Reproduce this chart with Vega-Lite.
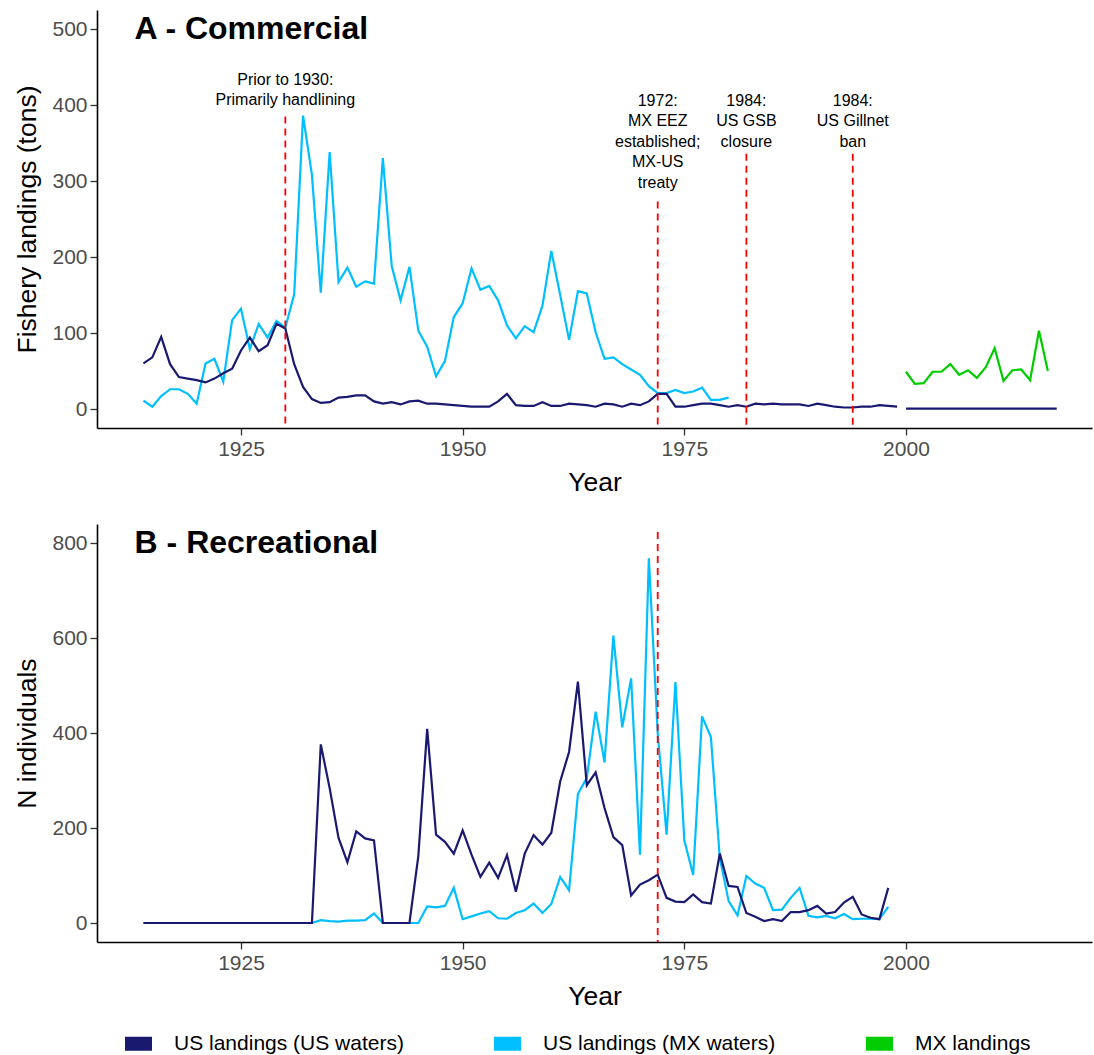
{
  "$schema": "https://vega.github.io/schema/vega-lite/v6.json",
  "padding": {"left": 14, "top": 10, "right": 2, "bottom": 4},
  "config": {
    "font": "Liberation Sans",
    "view": {"stroke": null},
    "axis": {
      "grid": false,
      "domainColor": "#000000",
      "domainWidth": 1.6,
      "tickColor": "#333333",
      "tickWidth": 1.3,
      "tickSize": 7,
      "labelColor": "#4D4D4D",
      "labelFontSize": 21,
      "labelPadding": 3,
      "titleColor": "#000000",
      "titleFontSize": 26.5,
      "titleFontWeight": "normal"
    },
    "axisX": {"titlePadding": 10},
    "axisY": {"titlePadding": 10},
    "text": {"font": "Liberation Sans"}
  },
  "datasets": {
    "commercial": [
      {"series": "US landings (MX waters)", "year": 1914, "value": 11, "part": 1},
      {"series": "US landings (MX waters)", "year": 1915, "value": 3, "part": 1},
      {"series": "US landings (MX waters)", "year": 1916, "value": 17, "part": 1},
      {"series": "US landings (MX waters)", "year": 1917, "value": 26, "part": 1},
      {"series": "US landings (MX waters)", "year": 1918, "value": 26, "part": 1},
      {"series": "US landings (MX waters)", "year": 1919, "value": 20, "part": 1},
      {"series": "US landings (MX waters)", "year": 1920, "value": 7, "part": 1},
      {"series": "US landings (MX waters)", "year": 1921, "value": 60, "part": 1},
      {"series": "US landings (MX waters)", "year": 1922, "value": 66, "part": 1},
      {"series": "US landings (MX waters)", "year": 1923, "value": 36, "part": 1},
      {"series": "US landings (MX waters)", "year": 1924, "value": 117, "part": 1},
      {"series": "US landings (MX waters)", "year": 1925, "value": 132, "part": 1},
      {"series": "US landings (MX waters)", "year": 1926, "value": 79, "part": 1},
      {"series": "US landings (MX waters)", "year": 1927, "value": 112, "part": 1},
      {"series": "US landings (MX waters)", "year": 1928, "value": 94, "part": 1},
      {"series": "US landings (MX waters)", "year": 1929, "value": 116, "part": 1},
      {"series": "US landings (MX waters)", "year": 1930, "value": 107, "part": 1},
      {"series": "US landings (MX waters)", "year": 1931, "value": 151, "part": 1},
      {"series": "US landings (MX waters)", "year": 1932, "value": 386, "part": 1},
      {"series": "US landings (MX waters)", "year": 1933, "value": 308, "part": 1},
      {"series": "US landings (MX waters)", "year": 1934, "value": 153, "part": 1},
      {"series": "US landings (MX waters)", "year": 1935, "value": 338, "part": 1},
      {"series": "US landings (MX waters)", "year": 1936, "value": 167, "part": 1},
      {"series": "US landings (MX waters)", "year": 1937, "value": 186, "part": 1},
      {"series": "US landings (MX waters)", "year": 1938, "value": 161, "part": 1},
      {"series": "US landings (MX waters)", "year": 1939, "value": 168, "part": 1},
      {"series": "US landings (MX waters)", "year": 1940, "value": 165, "part": 1},
      {"series": "US landings (MX waters)", "year": 1941, "value": 330, "part": 1},
      {"series": "US landings (MX waters)", "year": 1942, "value": 188, "part": 1},
      {"series": "US landings (MX waters)", "year": 1943, "value": 143, "part": 1},
      {"series": "US landings (MX waters)", "year": 1944, "value": 187, "part": 1},
      {"series": "US landings (MX waters)", "year": 1945, "value": 103, "part": 1},
      {"series": "US landings (MX waters)", "year": 1946, "value": 82, "part": 1},
      {"series": "US landings (MX waters)", "year": 1947, "value": 43, "part": 1},
      {"series": "US landings (MX waters)", "year": 1948, "value": 63, "part": 1},
      {"series": "US landings (MX waters)", "year": 1949, "value": 121, "part": 1},
      {"series": "US landings (MX waters)", "year": 1950, "value": 139, "part": 1},
      {"series": "US landings (MX waters)", "year": 1951, "value": 185, "part": 1},
      {"series": "US landings (MX waters)", "year": 1952, "value": 157, "part": 1},
      {"series": "US landings (MX waters)", "year": 1953, "value": 162, "part": 1},
      {"series": "US landings (MX waters)", "year": 1954, "value": 143, "part": 1},
      {"series": "US landings (MX waters)", "year": 1955, "value": 110, "part": 1},
      {"series": "US landings (MX waters)", "year": 1956, "value": 93, "part": 1},
      {"series": "US landings (MX waters)", "year": 1957, "value": 109, "part": 1},
      {"series": "US landings (MX waters)", "year": 1958, "value": 101, "part": 1},
      {"series": "US landings (MX waters)", "year": 1959, "value": 136, "part": 1},
      {"series": "US landings (MX waters)", "year": 1960, "value": 208, "part": 1},
      {"series": "US landings (MX waters)", "year": 1961, "value": 150, "part": 1},
      {"series": "US landings (MX waters)", "year": 1962, "value": 91, "part": 1},
      {"series": "US landings (MX waters)", "year": 1963, "value": 155, "part": 1},
      {"series": "US landings (MX waters)", "year": 1964, "value": 152, "part": 1},
      {"series": "US landings (MX waters)", "year": 1965, "value": 101, "part": 1},
      {"series": "US landings (MX waters)", "year": 1966, "value": 66, "part": 1},
      {"series": "US landings (MX waters)", "year": 1967, "value": 68, "part": 1},
      {"series": "US landings (MX waters)", "year": 1968, "value": 59, "part": 1},
      {"series": "US landings (MX waters)", "year": 1969, "value": 52, "part": 1},
      {"series": "US landings (MX waters)", "year": 1970, "value": 45, "part": 1},
      {"series": "US landings (MX waters)", "year": 1971, "value": 30, "part": 1},
      {"series": "US landings (MX waters)", "year": 1972, "value": 21, "part": 1},
      {"series": "US landings (MX waters)", "year": 1973, "value": 21, "part": 1},
      {"series": "US landings (MX waters)", "year": 1974, "value": 25, "part": 1},
      {"series": "US landings (MX waters)", "year": 1975, "value": 21, "part": 1},
      {"series": "US landings (MX waters)", "year": 1976, "value": 23, "part": 1},
      {"series": "US landings (MX waters)", "year": 1977, "value": 28, "part": 1},
      {"series": "US landings (MX waters)", "year": 1978, "value": 12, "part": 1},
      {"series": "US landings (MX waters)", "year": 1979, "value": 12, "part": 1},
      {"series": "US landings (MX waters)", "year": 1980, "value": 15, "part": 1},
      {"series": "US landings (US waters)", "year": 1914, "value": 60, "part": 1},
      {"series": "US landings (US waters)", "year": 1915, "value": 68, "part": 1},
      {"series": "US landings (US waters)", "year": 1916, "value": 95, "part": 1},
      {"series": "US landings (US waters)", "year": 1917, "value": 59, "part": 1},
      {"series": "US landings (US waters)", "year": 1918, "value": 42, "part": 1},
      {"series": "US landings (US waters)", "year": 1919, "value": 40, "part": 1},
      {"series": "US landings (US waters)", "year": 1920, "value": 38, "part": 1},
      {"series": "US landings (US waters)", "year": 1921, "value": 35, "part": 1},
      {"series": "US landings (US waters)", "year": 1922, "value": 40, "part": 1},
      {"series": "US landings (US waters)", "year": 1923, "value": 47, "part": 1},
      {"series": "US landings (US waters)", "year": 1924, "value": 53, "part": 1},
      {"series": "US landings (US waters)", "year": 1925, "value": 77, "part": 1},
      {"series": "US landings (US waters)", "year": 1926, "value": 94, "part": 1},
      {"series": "US landings (US waters)", "year": 1927, "value": 76, "part": 1},
      {"series": "US landings (US waters)", "year": 1928, "value": 84, "part": 1},
      {"series": "US landings (US waters)", "year": 1929, "value": 112, "part": 1},
      {"series": "US landings (US waters)", "year": 1930, "value": 106, "part": 1},
      {"series": "US landings (US waters)", "year": 1931, "value": 59, "part": 1},
      {"series": "US landings (US waters)", "year": 1932, "value": 29, "part": 1},
      {"series": "US landings (US waters)", "year": 1933, "value": 13, "part": 1},
      {"series": "US landings (US waters)", "year": 1934, "value": 8, "part": 1},
      {"series": "US landings (US waters)", "year": 1935, "value": 9, "part": 1},
      {"series": "US landings (US waters)", "year": 1936, "value": 15, "part": 1},
      {"series": "US landings (US waters)", "year": 1937, "value": 16, "part": 1},
      {"series": "US landings (US waters)", "year": 1938, "value": 18, "part": 1},
      {"series": "US landings (US waters)", "year": 1939, "value": 18, "part": 1},
      {"series": "US landings (US waters)", "year": 1940, "value": 10, "part": 1},
      {"series": "US landings (US waters)", "year": 1941, "value": 7, "part": 1},
      {"series": "US landings (US waters)", "year": 1942, "value": 9, "part": 1},
      {"series": "US landings (US waters)", "year": 1943, "value": 6, "part": 1},
      {"series": "US landings (US waters)", "year": 1944, "value": 10, "part": 1},
      {"series": "US landings (US waters)", "year": 1945, "value": 11, "part": 1},
      {"series": "US landings (US waters)", "year": 1946, "value": 7, "part": 1},
      {"series": "US landings (US waters)", "year": 1947, "value": 7, "part": 1},
      {"series": "US landings (US waters)", "year": 1948, "value": 6, "part": 1},
      {"series": "US landings (US waters)", "year": 1949, "value": 5, "part": 1},
      {"series": "US landings (US waters)", "year": 1950, "value": 4, "part": 1},
      {"series": "US landings (US waters)", "year": 1951, "value": 3, "part": 1},
      {"series": "US landings (US waters)", "year": 1952, "value": 3, "part": 1},
      {"series": "US landings (US waters)", "year": 1953, "value": 3, "part": 1},
      {"series": "US landings (US waters)", "year": 1954, "value": 10, "part": 1},
      {"series": "US landings (US waters)", "year": 1955, "value": 20, "part": 1},
      {"series": "US landings (US waters)", "year": 1956, "value": 5, "part": 1},
      {"series": "US landings (US waters)", "year": 1957, "value": 4, "part": 1},
      {"series": "US landings (US waters)", "year": 1958, "value": 4, "part": 1},
      {"series": "US landings (US waters)", "year": 1959, "value": 9, "part": 1},
      {"series": "US landings (US waters)", "year": 1960, "value": 4, "part": 1},
      {"series": "US landings (US waters)", "year": 1961, "value": 4, "part": 1},
      {"series": "US landings (US waters)", "year": 1962, "value": 7, "part": 1},
      {"series": "US landings (US waters)", "year": 1963, "value": 6, "part": 1},
      {"series": "US landings (US waters)", "year": 1964, "value": 5, "part": 1},
      {"series": "US landings (US waters)", "year": 1965, "value": 3, "part": 1},
      {"series": "US landings (US waters)", "year": 1966, "value": 7, "part": 1},
      {"series": "US landings (US waters)", "year": 1967, "value": 6, "part": 1},
      {"series": "US landings (US waters)", "year": 1968, "value": 3, "part": 1},
      {"series": "US landings (US waters)", "year": 1969, "value": 7, "part": 1},
      {"series": "US landings (US waters)", "year": 1970, "value": 5, "part": 1},
      {"series": "US landings (US waters)", "year": 1971, "value": 10, "part": 1},
      {"series": "US landings (US waters)", "year": 1972, "value": 20, "part": 1},
      {"series": "US landings (US waters)", "year": 1973, "value": 20, "part": 1},
      {"series": "US landings (US waters)", "year": 1974, "value": 3, "part": 1},
      {"series": "US landings (US waters)", "year": 1975, "value": 3, "part": 1},
      {"series": "US landings (US waters)", "year": 1976, "value": 5, "part": 1},
      {"series": "US landings (US waters)", "year": 1977, "value": 7, "part": 1},
      {"series": "US landings (US waters)", "year": 1978, "value": 7, "part": 1},
      {"series": "US landings (US waters)", "year": 1979, "value": 5, "part": 1},
      {"series": "US landings (US waters)", "year": 1980, "value": 3, "part": 1},
      {"series": "US landings (US waters)", "year": 1981, "value": 5, "part": 1},
      {"series": "US landings (US waters)", "year": 1982, "value": 3, "part": 1},
      {"series": "US landings (US waters)", "year": 1983, "value": 7, "part": 1},
      {"series": "US landings (US waters)", "year": 1984, "value": 6, "part": 1},
      {"series": "US landings (US waters)", "year": 1985, "value": 7, "part": 1},
      {"series": "US landings (US waters)", "year": 1986, "value": 6, "part": 1},
      {"series": "US landings (US waters)", "year": 1987, "value": 6, "part": 1},
      {"series": "US landings (US waters)", "year": 1988, "value": 6, "part": 1},
      {"series": "US landings (US waters)", "year": 1989, "value": 4, "part": 1},
      {"series": "US landings (US waters)", "year": 1990, "value": 7, "part": 1},
      {"series": "US landings (US waters)", "year": 1991, "value": 5, "part": 1},
      {"series": "US landings (US waters)", "year": 1992, "value": 3, "part": 1},
      {"series": "US landings (US waters)", "year": 1993, "value": 2, "part": 1},
      {"series": "US landings (US waters)", "year": 1994, "value": 2, "part": 1},
      {"series": "US landings (US waters)", "year": 1995, "value": 3, "part": 1},
      {"series": "US landings (US waters)", "year": 1996, "value": 3, "part": 1},
      {"series": "US landings (US waters)", "year": 1997, "value": 5, "part": 1},
      {"series": "US landings (US waters)", "year": 1998, "value": 4, "part": 1},
      {"series": "US landings (US waters)", "year": 1999, "value": 3, "part": 1},
      {"series": "US landings (US waters)", "year": 2000, "value": 0.5, "part": 2},
      {"series": "US landings (US waters)", "year": 2001, "value": 0.5, "part": 2},
      {"series": "US landings (US waters)", "year": 2002, "value": 0.5, "part": 2},
      {"series": "US landings (US waters)", "year": 2003, "value": 0.5, "part": 2},
      {"series": "US landings (US waters)", "year": 2004, "value": 0.5, "part": 2},
      {"series": "US landings (US waters)", "year": 2005, "value": 0.5, "part": 2},
      {"series": "US landings (US waters)", "year": 2006, "value": 0.5, "part": 2},
      {"series": "US landings (US waters)", "year": 2007, "value": 0.5, "part": 2},
      {"series": "US landings (US waters)", "year": 2008, "value": 0.5, "part": 2},
      {"series": "US landings (US waters)", "year": 2009, "value": 0.5, "part": 2},
      {"series": "US landings (US waters)", "year": 2010, "value": 0.5, "part": 2},
      {"series": "US landings (US waters)", "year": 2011, "value": 0.5, "part": 2},
      {"series": "US landings (US waters)", "year": 2012, "value": 0.5, "part": 2},
      {"series": "US landings (US waters)", "year": 2013, "value": 0.5, "part": 2},
      {"series": "US landings (US waters)", "year": 2014, "value": 0.5, "part": 2},
      {"series": "US landings (US waters)", "year": 2015, "value": 0.5, "part": 2},
      {"series": "US landings (US waters)", "year": 2016, "value": 0.5, "part": 2},
      {"series": "US landings (US waters)", "year": 2017, "value": 0.5, "part": 2},
      {"series": "MX landings", "year": 2000, "value": 49, "part": 1},
      {"series": "MX landings", "year": 2001, "value": 33, "part": 1},
      {"series": "MX landings", "year": 2002, "value": 34, "part": 1},
      {"series": "MX landings", "year": 2003, "value": 49, "part": 1},
      {"series": "MX landings", "year": 2004, "value": 49, "part": 1},
      {"series": "MX landings", "year": 2005, "value": 59, "part": 1},
      {"series": "MX landings", "year": 2006, "value": 45, "part": 1},
      {"series": "MX landings", "year": 2007, "value": 51, "part": 1},
      {"series": "MX landings", "year": 2008, "value": 41, "part": 1},
      {"series": "MX landings", "year": 2009, "value": 55, "part": 1},
      {"series": "MX landings", "year": 2010, "value": 80, "part": 1},
      {"series": "MX landings", "year": 2011, "value": 37, "part": 1},
      {"series": "MX landings", "year": 2012, "value": 51, "part": 1},
      {"series": "MX landings", "year": 2013, "value": 52, "part": 1},
      {"series": "MX landings", "year": 2014, "value": 38, "part": 1},
      {"series": "MX landings", "year": 2015, "value": 103, "part": 1},
      {"series": "MX landings", "year": 2016, "value": 50, "part": 1}
    ],
    "recreational": [
      {"series": "US landings (MX waters)", "year": 1914, "value": 0},
      {"series": "US landings (MX waters)", "year": 1915, "value": 0},
      {"series": "US landings (MX waters)", "year": 1916, "value": 0},
      {"series": "US landings (MX waters)", "year": 1917, "value": 0},
      {"series": "US landings (MX waters)", "year": 1918, "value": 0},
      {"series": "US landings (MX waters)", "year": 1919, "value": 0},
      {"series": "US landings (MX waters)", "year": 1920, "value": 0},
      {"series": "US landings (MX waters)", "year": 1921, "value": 0},
      {"series": "US landings (MX waters)", "year": 1922, "value": 0},
      {"series": "US landings (MX waters)", "year": 1923, "value": 0},
      {"series": "US landings (MX waters)", "year": 1924, "value": 0},
      {"series": "US landings (MX waters)", "year": 1925, "value": 0},
      {"series": "US landings (MX waters)", "year": 1926, "value": 0},
      {"series": "US landings (MX waters)", "year": 1927, "value": 0},
      {"series": "US landings (MX waters)", "year": 1928, "value": 0},
      {"series": "US landings (MX waters)", "year": 1929, "value": 0},
      {"series": "US landings (MX waters)", "year": 1930, "value": 0},
      {"series": "US landings (MX waters)", "year": 1931, "value": 0},
      {"series": "US landings (MX waters)", "year": 1932, "value": 0},
      {"series": "US landings (MX waters)", "year": 1933, "value": 0},
      {"series": "US landings (MX waters)", "year": 1934, "value": 6},
      {"series": "US landings (MX waters)", "year": 1935, "value": 4},
      {"series": "US landings (MX waters)", "year": 1936, "value": 3},
      {"series": "US landings (MX waters)", "year": 1937, "value": 5},
      {"series": "US landings (MX waters)", "year": 1938, "value": 5},
      {"series": "US landings (MX waters)", "year": 1939, "value": 6},
      {"series": "US landings (MX waters)", "year": 1940, "value": 20},
      {"series": "US landings (MX waters)", "year": 1941, "value": 0},
      {"series": "US landings (MX waters)", "year": 1942, "value": 0},
      {"series": "US landings (MX waters)", "year": 1943, "value": 0},
      {"series": "US landings (MX waters)", "year": 1944, "value": 0},
      {"series": "US landings (MX waters)", "year": 1945, "value": 0},
      {"series": "US landings (MX waters)", "year": 1946, "value": 35},
      {"series": "US landings (MX waters)", "year": 1947, "value": 33},
      {"series": "US landings (MX waters)", "year": 1948, "value": 36},
      {"series": "US landings (MX waters)", "year": 1949, "value": 74},
      {"series": "US landings (MX waters)", "year": 1950, "value": 8},
      {"series": "US landings (MX waters)", "year": 1951, "value": 14},
      {"series": "US landings (MX waters)", "year": 1952, "value": 20},
      {"series": "US landings (MX waters)", "year": 1953, "value": 25},
      {"series": "US landings (MX waters)", "year": 1954, "value": 10},
      {"series": "US landings (MX waters)", "year": 1955, "value": 9},
      {"series": "US landings (MX waters)", "year": 1956, "value": 21},
      {"series": "US landings (MX waters)", "year": 1957, "value": 27},
      {"series": "US landings (MX waters)", "year": 1958, "value": 41},
      {"series": "US landings (MX waters)", "year": 1959, "value": 21},
      {"series": "US landings (MX waters)", "year": 1960, "value": 40},
      {"series": "US landings (MX waters)", "year": 1961, "value": 97},
      {"series": "US landings (MX waters)", "year": 1962, "value": 69},
      {"series": "US landings (MX waters)", "year": 1963, "value": 272},
      {"series": "US landings (MX waters)", "year": 1964, "value": 305},
      {"series": "US landings (MX waters)", "year": 1965, "value": 445},
      {"series": "US landings (MX waters)", "year": 1966, "value": 338},
      {"series": "US landings (MX waters)", "year": 1967, "value": 605},
      {"series": "US landings (MX waters)", "year": 1968, "value": 412},
      {"series": "US landings (MX waters)", "year": 1969, "value": 515},
      {"series": "US landings (MX waters)", "year": 1970, "value": 144},
      {"series": "US landings (MX waters)", "year": 1971, "value": 768},
      {"series": "US landings (MX waters)", "year": 1972, "value": 400},
      {"series": "US landings (MX waters)", "year": 1973, "value": 186},
      {"series": "US landings (MX waters)", "year": 1974, "value": 507},
      {"series": "US landings (MX waters)", "year": 1975, "value": 174},
      {"series": "US landings (MX waters)", "year": 1976, "value": 101},
      {"series": "US landings (MX waters)", "year": 1977, "value": 435},
      {"series": "US landings (MX waters)", "year": 1978, "value": 391},
      {"series": "US landings (MX waters)", "year": 1979, "value": 137},
      {"series": "US landings (MX waters)", "year": 1980, "value": 46},
      {"series": "US landings (MX waters)", "year": 1981, "value": 16},
      {"series": "US landings (MX waters)", "year": 1982, "value": 99},
      {"series": "US landings (MX waters)", "year": 1983, "value": 83},
      {"series": "US landings (MX waters)", "year": 1984, "value": 74},
      {"series": "US landings (MX waters)", "year": 1985, "value": 27},
      {"series": "US landings (MX waters)", "year": 1986, "value": 28},
      {"series": "US landings (MX waters)", "year": 1987, "value": 53},
      {"series": "US landings (MX waters)", "year": 1988, "value": 74},
      {"series": "US landings (MX waters)", "year": 1989, "value": 15},
      {"series": "US landings (MX waters)", "year": 1990, "value": 12},
      {"series": "US landings (MX waters)", "year": 1991, "value": 15},
      {"series": "US landings (MX waters)", "year": 1992, "value": 10},
      {"series": "US landings (MX waters)", "year": 1993, "value": 19},
      {"series": "US landings (MX waters)", "year": 1994, "value": 8},
      {"series": "US landings (MX waters)", "year": 1995, "value": 9},
      {"series": "US landings (MX waters)", "year": 1996, "value": 9},
      {"series": "US landings (MX waters)", "year": 1997, "value": 8},
      {"series": "US landings (MX waters)", "year": 1998, "value": 34},
      {"series": "US landings (US waters)", "year": 1914, "value": 0},
      {"series": "US landings (US waters)", "year": 1915, "value": 0},
      {"series": "US landings (US waters)", "year": 1916, "value": 0},
      {"series": "US landings (US waters)", "year": 1917, "value": 0},
      {"series": "US landings (US waters)", "year": 1918, "value": 0},
      {"series": "US landings (US waters)", "year": 1919, "value": 0},
      {"series": "US landings (US waters)", "year": 1920, "value": 0},
      {"series": "US landings (US waters)", "year": 1921, "value": 0},
      {"series": "US landings (US waters)", "year": 1922, "value": 0},
      {"series": "US landings (US waters)", "year": 1923, "value": 0},
      {"series": "US landings (US waters)", "year": 1924, "value": 0},
      {"series": "US landings (US waters)", "year": 1925, "value": 0},
      {"series": "US landings (US waters)", "year": 1926, "value": 0},
      {"series": "US landings (US waters)", "year": 1927, "value": 0},
      {"series": "US landings (US waters)", "year": 1928, "value": 0},
      {"series": "US landings (US waters)", "year": 1929, "value": 0},
      {"series": "US landings (US waters)", "year": 1930, "value": 0},
      {"series": "US landings (US waters)", "year": 1931, "value": 0},
      {"series": "US landings (US waters)", "year": 1932, "value": 0},
      {"series": "US landings (US waters)", "year": 1933, "value": 0},
      {"series": "US landings (US waters)", "year": 1934, "value": 376},
      {"series": "US landings (US waters)", "year": 1935, "value": 284},
      {"series": "US landings (US waters)", "year": 1936, "value": 179},
      {"series": "US landings (US waters)", "year": 1937, "value": 128},
      {"series": "US landings (US waters)", "year": 1938, "value": 193},
      {"series": "US landings (US waters)", "year": 1939, "value": 178},
      {"series": "US landings (US waters)", "year": 1940, "value": 174},
      {"series": "US landings (US waters)", "year": 1941, "value": 0},
      {"series": "US landings (US waters)", "year": 1942, "value": 0},
      {"series": "US landings (US waters)", "year": 1943, "value": 0},
      {"series": "US landings (US waters)", "year": 1944, "value": 0},
      {"series": "US landings (US waters)", "year": 1945, "value": 141},
      {"series": "US landings (US waters)", "year": 1946, "value": 409},
      {"series": "US landings (US waters)", "year": 1947, "value": 186},
      {"series": "US landings (US waters)", "year": 1948, "value": 171},
      {"series": "US landings (US waters)", "year": 1949, "value": 146},
      {"series": "US landings (US waters)", "year": 1950, "value": 195},
      {"series": "US landings (US waters)", "year": 1951, "value": 144},
      {"series": "US landings (US waters)", "year": 1952, "value": 97},
      {"series": "US landings (US waters)", "year": 1953, "value": 127},
      {"series": "US landings (US waters)", "year": 1954, "value": 95},
      {"series": "US landings (US waters)", "year": 1955, "value": 143},
      {"series": "US landings (US waters)", "year": 1956, "value": 66},
      {"series": "US landings (US waters)", "year": 1957, "value": 146},
      {"series": "US landings (US waters)", "year": 1958, "value": 185},
      {"series": "US landings (US waters)", "year": 1959, "value": 165},
      {"series": "US landings (US waters)", "year": 1960, "value": 190},
      {"series": "US landings (US waters)", "year": 1961, "value": 298},
      {"series": "US landings (US waters)", "year": 1962, "value": 360},
      {"series": "US landings (US waters)", "year": 1963, "value": 508},
      {"series": "US landings (US waters)", "year": 1964, "value": 290},
      {"series": "US landings (US waters)", "year": 1965, "value": 317},
      {"series": "US landings (US waters)", "year": 1966, "value": 242},
      {"series": "US landings (US waters)", "year": 1967, "value": 181},
      {"series": "US landings (US waters)", "year": 1968, "value": 164},
      {"series": "US landings (US waters)", "year": 1969, "value": 58},
      {"series": "US landings (US waters)", "year": 1970, "value": 81},
      {"series": "US landings (US waters)", "year": 1971, "value": 90},
      {"series": "US landings (US waters)", "year": 1972, "value": 102},
      {"series": "US landings (US waters)", "year": 1973, "value": 53},
      {"series": "US landings (US waters)", "year": 1974, "value": 45},
      {"series": "US landings (US waters)", "year": 1975, "value": 44},
      {"series": "US landings (US waters)", "year": 1976, "value": 60},
      {"series": "US landings (US waters)", "year": 1977, "value": 44},
      {"series": "US landings (US waters)", "year": 1978, "value": 41},
      {"series": "US landings (US waters)", "year": 1979, "value": 146},
      {"series": "US landings (US waters)", "year": 1980, "value": 78},
      {"series": "US landings (US waters)", "year": 1981, "value": 76},
      {"series": "US landings (US waters)", "year": 1982, "value": 21},
      {"series": "US landings (US waters)", "year": 1983, "value": 13},
      {"series": "US landings (US waters)", "year": 1984, "value": 4},
      {"series": "US landings (US waters)", "year": 1985, "value": 8},
      {"series": "US landings (US waters)", "year": 1986, "value": 4},
      {"series": "US landings (US waters)", "year": 1987, "value": 23},
      {"series": "US landings (US waters)", "year": 1988, "value": 23},
      {"series": "US landings (US waters)", "year": 1989, "value": 27},
      {"series": "US landings (US waters)", "year": 1990, "value": 36},
      {"series": "US landings (US waters)", "year": 1991, "value": 20},
      {"series": "US landings (US waters)", "year": 1992, "value": 23},
      {"series": "US landings (US waters)", "year": 1993, "value": 43},
      {"series": "US landings (US waters)", "year": 1994, "value": 55},
      {"series": "US landings (US waters)", "year": 1995, "value": 18},
      {"series": "US landings (US waters)", "year": 1996, "value": 11},
      {"series": "US landings (US waters)", "year": 1997, "value": 8},
      {"series": "US landings (US waters)", "year": 1998, "value": 74}
    ],
    "commercial_events": [
      {"year": 1930, "top": 385, "label_y": 444, "label": ["Prior to 1930:", "Primarily handlining"]},
      {"year": 1972, "top": 273, "label_y": 416, "label": ["1972:", "MX EEZ", "established;", "MX-US", "treaty"]},
      {"year": 1982, "top": 336, "label_y": 416, "label": ["1984:", "US GSB", "closure"]},
      {"year": 1994, "top": 336, "label_y": 416, "label": ["1984:", "US Gillnet", "ban"]}
    ],
    "recreational_events": [
      {"year": 1972, "top": 823}
    ]
  },
  "vconcat": [
    {
      "width": 995,
      "height": 418,
      "layer": [
        {
          "data": {"name": "commercial"},
          "mark": {"type": "line", "strokeWidth": 2.2},
          "encoding": {
            "x": {"field": "year", "type": "quantitative", "scale": {"domain": [1908.76, 2020.98], "nice": false, "zero": false},
                  "axis": {"values": [1925, 1950, 1975, 2000], "format": "d", "title": "Year"}},
            "y": {"field": "value", "type": "quantitative", "scale": {"domain": [-25, 525], "nice": false, "zero": false},
                  "axis": {"values": [0, 100, 200, 300, 400, 500], "title": "Fishery landings (tons)"}},
            "color": {"field": "series", "type": "nominal",
                      "scale": {"domain": ["US landings (US waters)", "US landings (MX waters)", "MX landings"], "range": ["#191970", "#00BFFF", "#00CD00"]},
                      "legend": {"title": null, "orient": "none", "legendX": 21, "legendY": 1013, "direction": "horizontal", "columns": 3,
                                 "symbolType": "stroke", "symbolSize": 729, "symbolStrokeWidth": 14, "labelFontSize": 21, "labelColor": "#000000",
                                 "labelLimit": 500, "labelOffset": 15, "columnPadding": 62}},
            "detail": {"field": "part", "type": "nominal"}
          }
        },
        {
          "data": {"name": "commercial_events"},
          "mark": {"type": "rule", "color": "#FF0000", "strokeWidth": 1.8, "strokeDash": [7, 5]},
          "encoding": {
            "x": {"field": "year", "type": "quantitative"},
            "y": {"field": "top", "type": "quantitative"},
            "y2": {"datum": -25}
          }
        },
        {
          "data": {"name": "commercial_events"},
          "mark": {"type": "text", "fontSize": 16, "lineHeight": 20.5, "align": "center", "baseline": "top", "color": "#000000"},
          "encoding": {
            "x": {"field": "year", "type": "quantitative"},
            "y": {"field": "label_y", "type": "quantitative"},
            "text": {"field": "label", "type": "nominal"}
          }
        },
        {
          "data": {"values": [{"panel": "A - Commercial"}]},
          "mark": {"type": "text", "fontSize": 32, "fontWeight": "bold", "align": "left", "baseline": "middle", "color": "#000000"},
          "encoding": {
            "x": {"datum": 1913, "type": "quantitative"},
            "y": {"datum": 500, "type": "quantitative"},
            "text": {"field": "panel", "type": "nominal"}
          }
        }
      ]
    },
    {
      "width": 995,
      "height": 418,
      "layer": [
        {
          "data": {"name": "recreational"},
          "mark": {"type": "line", "strokeWidth": 2.2},
          "encoding": {
            "x": {"field": "year", "type": "quantitative", "scale": {"domain": [1908.76, 2020.98], "nice": false, "zero": false},
                  "axis": {"values": [1925, 1950, 1975, 2000], "format": "d", "title": "Year"}},
            "y": {"field": "value", "type": "quantitative", "scale": {"domain": [-40, 840], "nice": false, "zero": false},
                  "axis": {"values": [0, 200, 400, 600, 800], "title": "N individuals"}},
            "color": {"field": "series", "type": "nominal"}
          }
        },
        {
          "data": {"name": "recreational_events"},
          "mark": {"type": "rule", "color": "#FF0000", "strokeWidth": 1.8, "strokeDash": [7, 5]},
          "encoding": {
            "x": {"field": "year", "type": "quantitative"},
            "y": {"field": "top", "type": "quantitative"},
            "y2": {"datum": -40}
          }
        },
        {
          "data": {"values": [{"panel": "B - Recreational"}]},
          "mark": {"type": "text", "fontSize": 32, "fontWeight": "bold", "align": "left", "baseline": "middle", "color": "#000000"},
          "encoding": {
            "x": {"datum": 1913, "type": "quantitative"},
            "y": {"datum": 800, "type": "quantitative"},
            "text": {"field": "panel", "type": "nominal"}
          }
        }
      ]
    }
  ],
  "spacing": 28,
  "resolve": {"scale": {"color": "shared"}}
}
